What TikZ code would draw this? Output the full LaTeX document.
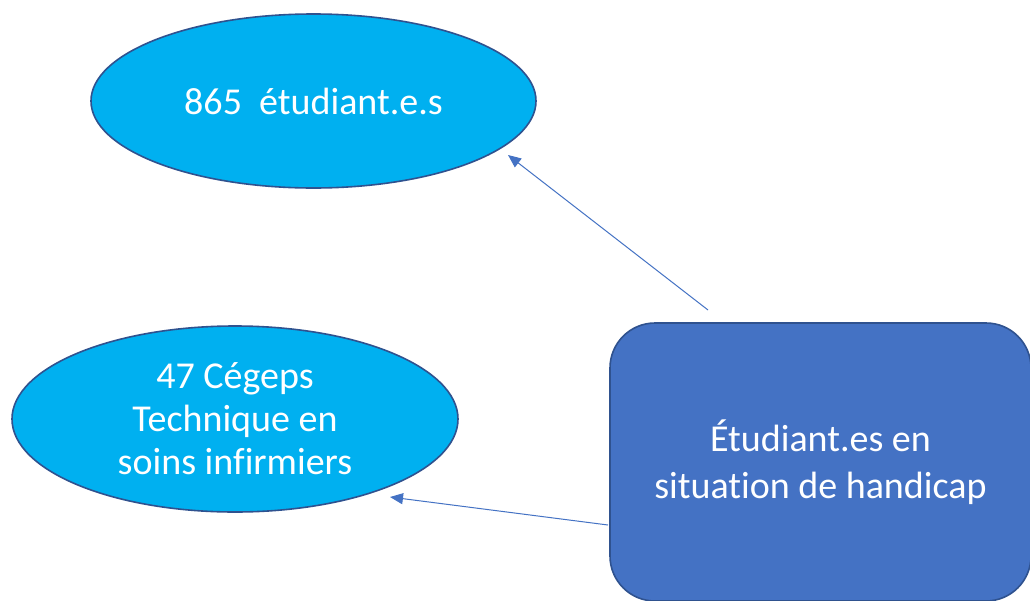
\documentclass[tikz,border=0pt]{standalone}
\usepackage{fontspec}
\setmainfont{Carlito}[RawFeature={-liga;-clig;-dlig}]
\usetikzlibrary{shapes.geometric,arrows.meta}
\definecolor{cyanfill}{HTML}{00B0F0}
\definecolor{boxfill}{HTML}{4472C4}
\definecolor{edge}{HTML}{2F528F}
\definecolor{arrowc}{HTML}{4472C4}
\tikzset{
  oval/.style={ellipse, draw=edge, line width=1.6pt, fill=cyanfill, inner sep=0pt,
    text=white, align=center, font=\fontsize{38}{43}\selectfont},
  bigbox/.style={rectangle, rounded corners=45pt, draw=edge, line width=1.6pt, fill=boxfill,
    inner sep=0pt, text=white, align=center, font=\fontsize{38}{47}\selectfont},
  link/.style={draw=arrowc, line width=1pt, -{Triangle[length=13pt,width=11pt]}}
}
\begin{document}
\begin{tikzpicture}[x=1pt,y=-1pt]
\useasboundingbox (0,0) rectangle (1030,600);
\fill[white] (0,0) rectangle (1030,600);
\node[oval, minimum width=445pt, minimum height=174pt] (e1) at (313.5,101) {865~~étudiant.e.s};
\node[oval, minimum width=446pt, minimum height=186pt] (e2) at (235,419) {47 Cégeps\\Technique en\\soins infirmiers};
\node[bigbox, minimum width=421pt, minimum height=278pt] (box) at (820.5,462) {Étudiant.es en\\situation de handicap};
\coordinate (a1s) at (708,310);
\coordinate (a1e) at (508,155);
\coordinate (a2s) at (608,525);
\coordinate (a2e) at (390,497);
\draw[link] (a1s) -- (a1e);
\draw[link] (a2s) -- (a2e);
\end{tikzpicture}
\end{document}
